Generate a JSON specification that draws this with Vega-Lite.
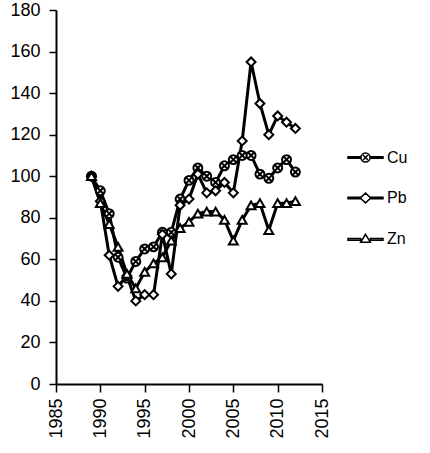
{
  "$schema": "https://vega.github.io/schema/vega-lite/v6.json",
  "width": 266,
  "height": 374,
  "autosize": "none",
  "padding": {"left": 56, "top": 10, "right": 108, "bottom": 69},
  "background": "white",
  "config": {
    "view": {"stroke": null},
    "font": "Liberation Sans",
    "axis": {"grid": false, "domainColor": "black", "domainWidth": 2, "tickColor": "black", "tickWidth": 1.5, "labelColor": "black", "labelFont": "Liberation Sans", "labelFontSize": 18, "titleFontSize": 0}
  },
  "data": {
    "values": [
      {"year": 1989, "metal": "Cu", "value": 100}, {"year": 1990, "metal": "Cu", "value": 93}, {"year": 1991, "metal": "Cu", "value": 82}, {"year": 1992, "metal": "Cu", "value": 61}, {"year": 1993, "metal": "Cu", "value": 51}, {"year": 1994, "metal": "Cu", "value": 59}, {"year": 1995, "metal": "Cu", "value": 65}, {"year": 1996, "metal": "Cu", "value": 66}, {"year": 1997, "metal": "Cu", "value": 73}, {"year": 1998, "metal": "Cu", "value": 73}, {"year": 1999, "metal": "Cu", "value": 89}, {"year": 2000, "metal": "Cu", "value": 98}, {"year": 2001, "metal": "Cu", "value": 104}, {"year": 2002, "metal": "Cu", "value": 100}, {"year": 2003, "metal": "Cu", "value": 97}, {"year": 2004, "metal": "Cu", "value": 105}, {"year": 2005, "metal": "Cu", "value": 108}, {"year": 2006, "metal": "Cu", "value": 110}, {"year": 2007, "metal": "Cu", "value": 110}, {"year": 2008, "metal": "Cu", "value": 101}, {"year": 2009, "metal": "Cu", "value": 99}, {"year": 2010, "metal": "Cu", "value": 104}, {"year": 2011, "metal": "Cu", "value": 108}, {"year": 2012, "metal": "Cu", "value": 102},
      {"year": 1989, "metal": "Pb", "value": 100}, {"year": 1990, "metal": "Pb", "value": 88}, {"year": 1991, "metal": "Pb", "value": 62}, {"year": 1992, "metal": "Pb", "value": 47}, {"year": 1993, "metal": "Pb", "value": 52}, {"year": 1994, "metal": "Pb", "value": 40}, {"year": 1995, "metal": "Pb", "value": 43}, {"year": 1996, "metal": "Pb", "value": 43}, {"year": 1997, "metal": "Pb", "value": 72}, {"year": 1998, "metal": "Pb", "value": 53}, {"year": 1999, "metal": "Pb", "value": 86}, {"year": 2000, "metal": "Pb", "value": 89}, {"year": 2001, "metal": "Pb", "value": 101}, {"year": 2002, "metal": "Pb", "value": 92}, {"year": 2003, "metal": "Pb", "value": 93}, {"year": 2004, "metal": "Pb", "value": 97}, {"year": 2005, "metal": "Pb", "value": 92}, {"year": 2006, "metal": "Pb", "value": 117}, {"year": 2007, "metal": "Pb", "value": 155}, {"year": 2008, "metal": "Pb", "value": 135}, {"year": 2009, "metal": "Pb", "value": 120}, {"year": 2010, "metal": "Pb", "value": 129}, {"year": 2011, "metal": "Pb", "value": 126}, {"year": 2012, "metal": "Pb", "value": 123},
      {"year": 1989, "metal": "Zn", "value": 100}, {"year": 1990, "metal": "Zn", "value": 87}, {"year": 1991, "metal": "Zn", "value": 77}, {"year": 1992, "metal": "Zn", "value": 66}, {"year": 1993, "metal": "Zn", "value": 53}, {"year": 1994, "metal": "Zn", "value": 46}, {"year": 1995, "metal": "Zn", "value": 54}, {"year": 1996, "metal": "Zn", "value": 58}, {"year": 1997, "metal": "Zn", "value": 61}, {"year": 1998, "metal": "Zn", "value": 69}, {"year": 1999, "metal": "Zn", "value": 75}, {"year": 2000, "metal": "Zn", "value": 78}, {"year": 2001, "metal": "Zn", "value": 82}, {"year": 2002, "metal": "Zn", "value": 83}, {"year": 2003, "metal": "Zn", "value": 83}, {"year": 2004, "metal": "Zn", "value": 79}, {"year": 2005, "metal": "Zn", "value": 69}, {"year": 2006, "metal": "Zn", "value": 79}, {"year": 2007, "metal": "Zn", "value": 86}, {"year": 2008, "metal": "Zn", "value": 87}, {"year": 2009, "metal": "Zn", "value": 74}, {"year": 2010, "metal": "Zn", "value": 87}, {"year": 2011, "metal": "Zn", "value": 87}, {"year": 2012, "metal": "Zn", "value": 88}
    ]
  },
  "encoding": {
    "x": {"field": "year", "type": "quantitative", "scale": {"domain": [1985, 2015], "nice": false, "zero": false},
      "axis": {"title": null, "values": [1985, 1990, 1995, 2000, 2005, 2010, 2015], "format": "d", "labelAngle": -90, "labelAlign": "right", "labelBaseline": "middle", "tickSize": 8, "labelPadding": 6}},
    "y": {"field": "value", "type": "quantitative", "scale": {"domain": [0, 180], "nice": false},
      "axis": {"title": null, "values": [0, 20, 40, 60, 80, 100, 120, 140, 160, 180], "tickSize": 7, "labelPadding": 9}}
  },
  "layer": [
    {
      "mark": {"type": "line", "color": "black", "strokeWidth": 3},
      "encoding": {"detail": {"field": "metal"}}
    },
    {
      "mark": {"type": "point", "filled": true, "fill": "white", "stroke": "black", "strokeWidth": 2, "size": 80, "opacity": 1},
      "encoding": {
        "shape": {
          "field": "metal", "type": "nominal",
          "scale": {"domain": ["Cu", "Pb", "Zn"], "range": ["M1,0A1,1,0,1,1,-1,0A1,1,0,1,1,1,0Z M-0.55,-0.55L0.55,0.55 M-0.55,0.55L0.55,-0.55", "diamond", "triangle-up"]},
          "legend": null
        }
      }
    },
    {
      "mark": {"type": "point", "filled": true, "fill": "white", "stroke": "black", "strokeWidth": 2.5, "size": 0, "opacity": 1},
      "encoding": {
        "shape": {
          "field": "metal", "type": "nominal",
          "scale": {"domain": ["Cu", "Pb", "Zn"], "range": [
            "M-1,-0.045H-0.26V0.045H-1ZM0.26,-0.045H1V0.045H0.26ZM0.26,0A0.26,0.26,0,1,1,-0.26,0A0.26,0.26,0,1,1,0.26,0ZM-0.14,-0.14L0.14,0.14M-0.14,0.14L0.14,-0.14",
            "M-1,-0.045H-0.3V0.045H-1ZM0.3,-0.045H1V0.045H0.3ZM0,-0.28L0.3,0L0,0.28L-0.3,0Z",
            "M-1,0.005H-0.28V0.095H-1ZM0.28,0.005H1V0.095H0.28ZM0,-0.24L0.28,0.22L-0.28,0.22Z"]},
          "legend": {
            "title": null,
            "orient": "none",
            "legendX": 291,
            "legendY": 129,
            "padding": 0,
            "symbolSize": 1225,
            "rowPadding": 13.5,
            "labelOffset": 3,
            "labelFontSize": 16,
            "labelColor": "black",
            "labelFont": "Liberation Sans",
            "encode": {"symbols": {"update": {"strokeWidth": {"value": 2.5}}}}
          }
        }
      }
    }
  ],
  "resolve": {"scale": {"shape": "independent"}, "legend": {"shape": "independent"}}
}
